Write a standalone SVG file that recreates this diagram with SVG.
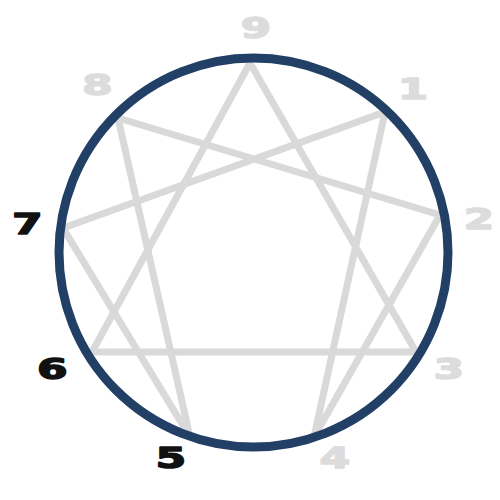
<svg xmlns="http://www.w3.org/2000/svg" width="500" height="500" viewBox="0 0 500 500">
<style>
.l{stroke:#d9d9d9;stroke-width:7;fill:none;stroke-linejoin:miter;stroke-linecap:butt}
.t{font-family:"DejaVu Sans",sans-serif;font-weight:bold;font-size:29px;text-anchor:middle;stroke-width:1.6;stroke-linejoin:round}
.g{fill:#dcdcdc;stroke:#dcdcdc}
.k{fill:#111111;stroke:#111111}
</style>
<rect width="500" height="500" fill="#ffffff"/>
<g id="connectors">
<polygon class="l" points="250,63 416,352 92,352"/>
<polygon class="l" points="385,112 314,437 440,215 118,118 190,437 63,228"/>
</g>
<g id="circle"><circle cx="253.5" cy="252.5" r="194.5" fill="none" stroke="#223f66" stroke-width="9"/></g>
<g id="n9"><text class="t g" transform="translate(256,38) scale(1.5,1)">9</text></g>
<g id="n1"><text class="t g" transform="translate(413,99) scale(1.5,1)">1</text></g>
<g id="n2"><text class="t g" transform="translate(479,229) scale(1.5,1)">2</text></g>
<g id="n3"><text class="t g" transform="translate(449,379) scale(1.5,1)">3</text></g>
<g id="n4"><text class="t g" transform="translate(335,468) scale(1.5,1)">4</text></g>
<g id="n5"><text class="t k" transform="translate(171,468) scale(1.5,1)">5</text></g>
<g id="n6"><text class="t k" transform="translate(52.5,379) scale(1.5,1)">6</text></g>
<g id="n7"><text class="t k" transform="translate(27.5,234) scale(1.5,1)">7</text></g>
<g id="n8"><text class="t g" transform="translate(97.5,95) scale(1.5,1)">8</text></g>
</svg>
